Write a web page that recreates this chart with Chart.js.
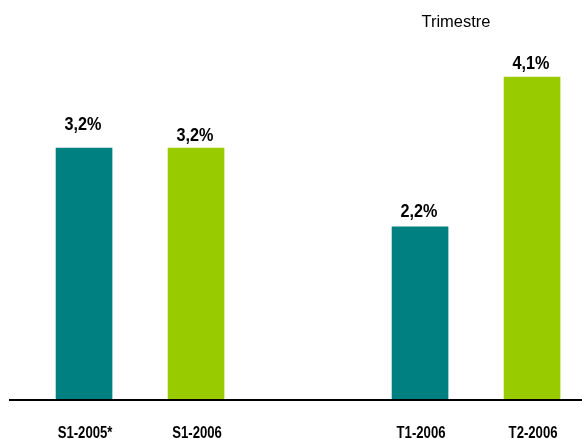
<!DOCTYPE html>
<html>
<head>
<meta charset="utf-8">
<script src="https://cdn.jsdelivr.net/npm/chart.js@4/dist/chart.umd.min.js"></script>
<style>
  html, body { margin: 0; padding: 0; background: #fff; }
  #wrap { width: 582px; height: 439px; }
</style>
</head>
<body>
<div id="wrap"><canvas id="c"></canvas></div>
<script>
// données
const categories = ['S1-2005*', 'S1-2006', 'T1-2006', 'T2-2006']
const slots = [1, 2, 4, 5]   // position 3 laissée vide
const values = [3.2, 3.2, 2.2, 4.1]
const valueLabels = ['3,2%', '3,2%', '2,2%', '4,1%']

// style
const barColors = ['#008080', '#99CC00', '#008080', '#99CC00']
const labelGap = [18, 7, 10, 8]
const FONT = "'Liberation Sans', Arial, sans-serif"

// texte: valeurs, catégories (police étroite simulée), "Trimestre"
const labelPlugin = {
  id: 'labels',
  afterDraw(chart) {
    const ctx = chart.ctx
    const meta = chart.getDatasetMeta(0)
    const xScale = chart.scales.x
    const bottom = chart.chartArea.bottom
    ctx.save()
    ctx.fillStyle = '#000'
    ctx.textAlign = 'center'
    ctx.textBaseline = 'alphabetic'

    ctx.font = 'bold 18px ' + FONT
    meta.data.forEach((bar, i) => {
      ctx.save()
      ctx.translate(bar.x - 1, bar.y - labelGap[i])
      ctx.scale(0.9, 1)
      ctx.fillText(valueLabels[i], 0, 0)
      ctx.restore()
    })

    ctx.font = 'bold 16px ' + FONT
    slots.forEach((s, i) => {
      ctx.save()
      ctx.translate(xScale.getPixelForValue(s) + 1, bottom + 38)
      ctx.scale(0.82, 1)
      ctx.fillText(categories[i], 0, 0)
      ctx.restore()
    })

    ctx.font = '16.5px ' + FONT
    ctx.fillText('Trimestre', 456, 27)
    ctx.restore()
  }
}

new Chart(document.getElementById('c'), {
  type: 'bar',
  data: {
    datasets: [{
      data: slots.map((s, i) => ({ x: s, y: values[i] })),
      backgroundColor: barColors,
      barThickness: 56,
      borderWidth: 0
    }]
  },
  options: {
    responsive: true,
    maintainAspectRatio: false,
    animation: false,
    layout: { padding: { left: 10, right: 0, top: 0, bottom: 39 } },
    plugins: { legend: { display: false }, tooltip: { enabled: false } },
    scales: {
      x: {
        type: 'linear',
        offset: false,
        min: 0.339,
        max: 5.446,
        grid: { display: false, drawTicks: false },
        border: { display: true, color: '#000', width: 2, z: 1 },
        ticks: { display: false }
      },
      y: {
        display: false,
        min: 0,
        max: 5.08
      }
    }
  },
  plugins: [labelPlugin]
})
</script>
</body>
</html>
